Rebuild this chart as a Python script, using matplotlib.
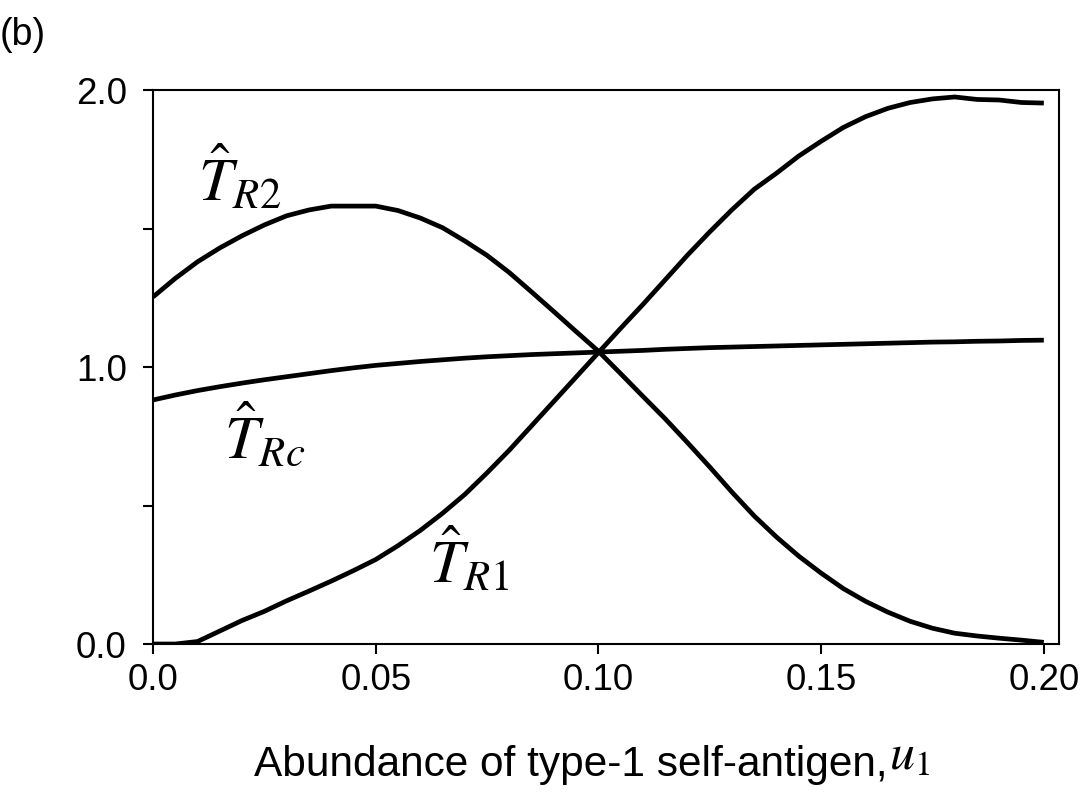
import numpy as np
import matplotlib
matplotlib.use('Agg')
import matplotlib.pyplot as plt
from matplotlib.ticker import MultipleLocator

plt.rcParams['font.family'] = ['Liberation Sans', 'DejaVu Sans']
plt.rcParams['mathtext.fontset'] = 'stix'

# abundance of type-1 self-antigen (step 0.005)
u1 = np.round(np.arange(0, 0.2001, 0.005), 3)

T_R1 = [0.000, 0.000, 0.009, 0.047, 0.085, 0.118, 0.156, 0.191, 0.227, 0.265,
        0.305, 0.355, 0.410, 0.472, 0.540, 0.618, 0.700, 0.788, 0.876, 0.964,
        1.052, 1.140, 1.226, 1.315, 1.404, 1.488, 1.568, 1.642, 1.700, 1.762,
        1.815, 1.865, 1.904, 1.934, 1.955, 1.968, 1.975, 1.966, 1.964, 1.955,
        1.953]

T_R2 = [1.253, 1.320, 1.380, 1.430, 1.474, 1.513, 1.546, 1.567, 1.581, 1.581,
        1.581, 1.565, 1.538, 1.503, 1.455, 1.403, 1.341, 1.271, 1.200, 1.128,
        1.057, 0.976, 0.894, 0.813, 0.727, 0.639, 0.548, 0.462, 0.386, 0.317,
        0.256, 0.200, 0.154, 0.115, 0.082, 0.057, 0.039, 0.029, 0.021, 0.014,
        0.006]

T_Rc = [0.881, 0.899, 0.915, 0.929, 0.942, 0.954, 0.965, 0.976, 0.987, 0.997,
        1.006, 1.013, 1.020, 1.026, 1.032, 1.037, 1.041, 1.045, 1.048, 1.051,
        1.054, 1.057, 1.060, 1.064, 1.067, 1.070, 1.072, 1.074, 1.076, 1.078,
        1.080, 1.082, 1.084, 1.086, 1.088, 1.090, 1.091, 1.093, 1.094, 1.096,
        1.097]

xticks = [0.0, 0.05, 0.10, 0.15, 0.20]
xticklabels = ['0.0', '0.05', '0.10', '0.15', '0.20']
yticks = [0.0, 1.0, 2.0]
yticklabels = ['0.0', '1.0', '2.0']

fig = plt.figure(figsize=(10.86, 7.94), dpi=100)
ax = fig.add_axes([0.1409, 0.1889, 0.8342, 0.6977])

for y in (T_R1, T_R2, T_Rc):
    ax.plot(u1, y, color='black', lw=3.4, solid_capstyle='butt', solid_joinstyle='round')

ax.set_xlim(0, 0.2034)
ax.set_ylim(0, 2.0)
ax.set_xticks(xticks)
ax.set_xticklabels(xticklabels)
ax.set_yticks(yticks)
ax.set_yticklabels(yticklabels)
ax.yaxis.set_minor_locator(MultipleLocator(0.5))
ax.tick_params(which='both', direction='out', length=7, width=1.5, labelsize=26.5)
ax.tick_params(axis='x', pad=7)
ax.tick_params(axis='y', pad=12)
for s in ax.spines.values():
    s.set_linewidth(1.5)

ax.set_xlabel('Abundance of type-1 self-antigen,', fontsize=30.5)
ax.xaxis.set_label_coords(0.461, -0.183, transform=ax.transAxes)
ax.xaxis.label.set_ha('center')
# italic symbol after the axis label, slightly larger
ax.annotate(r'$u_1$', xy=(1, 0), xycoords=ax.xaxis.label,
            xytext=(1.5, 4), textcoords='offset points',
            fontsize=36, ha='left', va='bottom')

# curve labels
labels = [(0.0102, 1.60, r'$\hat{T}_{R\mathrm{2}}$'),
          (0.0160, 0.67, r'$\hat{T}_{Rc}$'),
          (0.0620, 0.22, r'$\hat{T}_{R\mathrm{1}}$')]
for x, y, s in labels:
    ax.text(x, y, s, fontsize=44, ha='left', va='baseline')

fig.text(0.0, 0.978, '(b)', fontsize=27, ha='left', va='top')

fig.savefig('out.png', dpi=100)
